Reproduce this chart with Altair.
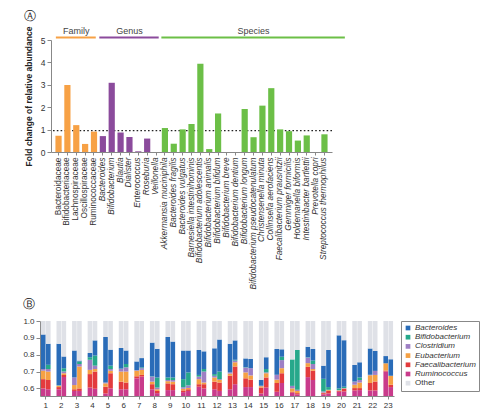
import altair as alt
import pandas as pd

FONT = "Liberation Sans"

# ---------------- Panel A data ----------------
family_names = ["Bacteroidaceae", "Bifidobacteriaceae", "Lachnospiraceae",
                "Oscillospiraceae", "Ruminococcaceae"]
family_fc = [0.73, 2.99, 1.20, 0.36, 0.91]

genus_names = ["Bacteroides", "Bifidobacterium", "Blautia", "Dialister",
               "Enterococcus", "Roseburia", "Veillonella"]
genus_fc = [0.71, 3.09, 0.87, 0.67, 0.03, 0.60, 0.0]

species_names = ["Akkermansia muciniphila", "Bacteroides fragilis", "Bacteroides vulgatus",
                 "Barnesiella intestinihominis", "Bifidobacterium adolescentis",
                 "Bifidobacterium animalis", "Bifidobacterium bifidum", "Bifidobacterium breve",
                 "Bifidobacterium dentium", "Bifidobacterium longum",
                 "Bifidobacterium pseudocatenulatum", "Christensenella minuta",
                 "Collinsella aerofaciens", "Faecalibacterium prausnitzii", "Gemmiger formicilis",
                 "Holdemanella biformis", "Intestinibacter bartlettii", "Prevotella copri",
                 "Streptococcus thermophilus"]
species_fc = [1.07, 0.37, 1.01, 1.25, 3.94, 0.13, 1.72, 0.0, 0.0, 1.92, 0.66, 2.07,
              2.85, 1.01, 0.93, 0.51, 0.74, 0.0, 0.79]

threshold = [0.95]

level_names = ["Family", "Genus", "Species"]
level_colors = ["#f7a145", "#8b4b9c", "#6cbf47"]
# header spans, in category-index units
header_from = [-0.3, 4.6, 11.6]
header_to = [4.2, 11.3, 32.3]
header_mid = [2.0, 8.0, 22.0]

# ---------------- Panel B data ----------------
groups = list(range(1, 24))
visits = ["a", "b"]
genus_b = ["Bacteroides", "Bifidobacterium", "Clostridium", "Eubacterium",
           "Faecalibacterium", "Ruminococcus", "Other"]
genus_b_colors = ["#2a6cb8", "#26a88b", "#9e7fc4", "#f5a144", "#e33b3d", "#c93b8b", "#dfe1e7"]

# cumulative tops of each stacked layer, bars ordered 1a,1b,2a,2b,...
ruminococcus_top = [0.600, 0.595, 0.595, 0.668, 0.585, 0.585, 0.605, 0.598, 0.570, 0.600,
                    0.595, 0.595, 0.660, 0.670, 0.595, 0.572, 0.590, 0.590, 0.578, 0.585,
                    0.610, 0.600, 0.595, 0.585, 0.595, 0.625, 0.608, 0.608, 0.570, 0.605,
                    0.580, 0.632, 0.575, 0.565, 0.667, 0.650, 0.565, 0.570, 0.580, 0.582,
                    0.588, 0.590, 0.588, 0.588, 0.700, 0.608]
faecalibacterium_top = [0.655, 0.650, 0.608, 0.680, 0.595, 0.600, 0.685, 0.700, 0.610, 0.690,
                        0.640, 0.635, 0.672, 0.680, 0.625, 0.585, 0.630, 0.625, 0.588, 0.595,
                        0.625, 0.625, 0.640, 0.635, 0.675, 0.730, 0.660, 0.652, 0.605, 0.665,
                        0.632, 0.690, 0.580, 0.572, 0.728, 0.705, 0.572, 0.585, 0.585, 0.598,
                        0.602, 0.602, 0.632, 0.641, 0.706, 0.622]
eubacterium_top = [0.705, 0.700, 0.615, 0.690, 0.620, 0.730, 0.710, 0.715, 0.630, 0.705,
                   0.700, 0.700, 0.705, 0.710, 0.640, 0.595, 0.643, 0.640, 0.598, 0.603,
                   0.655, 0.635, 0.665, 0.650, 0.688, 0.755, 0.695, 0.677, 0.613, 0.690,
                   0.652, 0.720, 0.600, 0.585, 0.750, 0.715, 0.575, 0.590, 0.588, 0.600,
                   0.622, 0.635, 0.678, 0.680, 0.749, 0.675]
clostridium_top = [0.715, 0.715, 0.618, 0.700, 0.665, 0.745, 0.770, 0.735, 0.635, 0.715,
                   0.715, 0.725, 0.708, 0.720, 0.670, 0.605, 0.650, 0.650, 0.607, 0.618,
                   0.670, 0.700, 0.675, 0.655, 0.695, 0.765, 0.724, 0.720, 0.616, 0.695,
                   0.680, 0.768, 0.615, 0.592, 0.783, 0.745, 0.582, 0.592, 0.590, 0.602,
                   0.640, 0.650, 0.681, 0.704, 0.749, 0.675]
bifidobacterium_top = [0.715, 0.740, 0.620, 0.720, 0.665, 0.760, 0.785, 0.795, 0.635, 0.735,
                       0.718, 0.745, 0.708, 0.725, 0.672, 0.665, 0.665, 0.665, 0.655, 0.695,
                       0.680, 0.715, 0.685, 0.700, 0.695, 0.770, 0.726, 0.720, 0.616, 0.715,
                       0.681, 0.788, 0.772, 0.828, 0.785, 0.765, 0.657, 0.608, 0.600, 0.610,
                       0.641, 0.665, 0.681, 0.704, 0.749, 0.675]
bacteroides_top = [0.920, 0.865, 0.865, 0.790, 0.825, 0.765, 0.810, 0.885, 0.905, 0.830,
                   0.840, 0.825, 0.760, 0.780, 0.872, 0.835, 0.905, 0.878, 0.825, 0.825,
                   0.828, 0.820, 0.838, 0.890, 0.865, 0.885, 0.778, 0.775, 0.651, 0.785,
                   0.834, 0.832, 0.772, 0.828, 0.847, 0.834, 0.735, 0.828, 0.915, 0.886,
                   0.739, 0.755, 0.837, 0.822, 0.792, 0.773]
total_top = 1.0

# ---------------- build tables ----------------
taxa = family_names + genus_names + species_names
df_a = pd.DataFrame({
    "taxon": taxa,
    "fc": family_fc + genus_fc + species_fc,
    "level": ["Family"] * len(family_names) + ["Genus"] * len(genus_names)
             + ["Species"] * len(species_names),
})
df_thr = pd.DataFrame({"fc": threshold})
df_h = pd.DataFrame({"level": level_names, "x0": header_from, "x1": header_to, "xm": header_mid})

tops = [ruminococcus_top, faecalibacterium_top, eubacterium_top, clostridium_top,
        bifidobacterium_top, bacteroides_top]
stack_order = ["Ruminococcus", "Faecalibacterium", "Eubacterium", "Clostridium",
               "Bifidobacterium", "Bacteroides"]
rows = []
k = 0
for g in groups:
    for v in visits:
        lo = 0.0
        for name, arr in zip(stack_order, tops):
            hi = arr[k]
            rows.append({"group": g, "visit": v, "genus": name, "lo": lo, "hi": hi})
            lo = hi
        rows.append({"group": g, "visit": v, "genus": "Other", "lo": lo, "hi": total_top})
        k += 1
df_b = pd.DataFrame(rows)

# ---------------- Panel A ----------------
N = len(taxa)
PI, PO = 0.3, 0.5
q0 = -(PO + (1 - PI) / 2)
q1 = q0 + (N - PI + 2 * PO)
qscale = alt.Scale(domain=[q0, q1], nice=False, zero=False)

fam_test = "indexof([" + ",".join("'" + f + "'" for f in family_names) + "], datum.value) >= 0"

axisA_y = alt.Axis(values=[0, 1, 2, 3, 4, 5], title="Fold change of relative abundance",
                   titleFontWeight="bold", titleFontSize=8.5, titlePadding=7,
                   labelFontSize=8.5, tickSize=4, labelPadding=2, labelOverlap=False)
yscaleA = alt.Scale(domain=[0, 5], nice=False)

rule_thr = alt.Chart(df_thr).mark_rule(strokeDash=[1.6, 2.2], strokeWidth=1.3,
                                       color="#222").encode(
    y=alt.Y("fc:Q", scale=yscaleA, axis=axisA_y))

barsA = alt.Chart(df_a).mark_bar().encode(
    x=alt.X("taxon:N", sort=taxa,
            scale=alt.Scale(paddingInner=PI, paddingOuter=PO),
            axis=alt.Axis(title=None, labelAngle=-90, labelFontSize=8.3, labelPadding=2,
                          tickSize=3, labelOverlap=False, labelLimit=300,
                          labelFontStyle={"condition": {"test": fam_test, "value": "normal"},
                                          "value": "italic"})),
    y=alt.Y("fc:Q", scale=yscaleA, axis=axisA_y),
    color=alt.Color("level:N", scale=alt.Scale(domain=level_names, range=level_colors),
                    legend=None),
)

hdr_lines = alt.Chart(df_h).mark_rule(strokeWidth=2.2).encode(
    x=alt.X("x0:Q", scale=qscale, axis=None),
    x2="x1:Q",
    y=alt.value(-2.5),
    color=alt.Color("level:N", scale=alt.Scale(domain=level_names, range=level_colors),
                    legend=None),
)
hdr_text = alt.Chart(df_h).mark_text(fontSize=9, color="#444", baseline="alphabetic",
                                     font=FONT).encode(
    x=alt.X("xm:Q", scale=qscale, axis=None),
    y=alt.value(-6),
    text="level:N",
)

panel_a = alt.layer(rule_thr, barsA, hdr_lines, hdr_text).resolve_scale(
    x="independent").properties(
    width=281, height=112,
    title=alt.TitleParams("Ⓐ", anchor="start", frame="bounds", font="DejaVu Sans",
                          fontSize=12, fontWeight="normal", offset=3, color="#222"))

# ---------------- Panel B ----------------
B_SHIFT = 11          # panel B starts left of panel A's plot edge
B_W = 343
barsB = alt.Chart(df_b).mark_bar(clip=False).encode(
    x=alt.X("group:O", sort=groups,
            scale=alt.Scale(paddingInner=0.38, paddingOuter=0.06, range=[-B_SHIFT, B_W]),
            axis=alt.Axis(title=None, labelAngle=0, labelFontSize=8, tickSize=3,
                          labelPadding=2)),
    xOffset=alt.XOffset("visit:N", sort=visits, scale=alt.Scale(paddingInner=0.08)),
    y=alt.Y("lo:Q", scale=alt.Scale(domain=[0.555, 1.0], nice=False, zero=False, clamp=True),
            axis=alt.Axis(values=[0.6, 0.7, 0.8, 0.9, 1.0], format=".1f", title=None,
                          labelFontSize=8, tickSize=4, labelPadding=2, offset=B_SHIFT)),
    y2="hi:Q",
    color=alt.Color("genus:N", scale=alt.Scale(domain=genus_b, range=genus_b_colors),
                    legend=alt.Legend(title=None, orient="right", symbolType="square",
                                      symbolSize=22, labelFontSize=8, rowPadding=1.2,
                                      padding=3, offset=7, strokeColor="#888",
                                      symbolStrokeWidth=0, labelFont=FONT, labelOffset=3,
                                      labelFontStyle={"expr": "datum.label === 'Other' ? 'normal' : 'italic'"})),
).properties(
    width=B_W, height=75,
    title=alt.TitleParams("Ⓑ", anchor="start", frame="bounds", font="DejaVu Sans",
                          fontSize=12, fontWeight="normal", offset=6, color="#222"))

chart = alt.vconcat(panel_a, barsB, spacing=9).resolve_scale(
    color="independent"
).properties(
    padding={"left": 14, "top": 2, "right": 2, "bottom": 2}
).configure_view(stroke=None).configure_axis(
    labelFont=FONT, titleFont=FONT, domainColor="#888", tickColor="#888",
    labelColor="#333", titleColor="#222", grid=False
).configure_legend(labelColor="#333")

chart.save("out.html", embed_options={"renderer": "svg", "actions": False})
